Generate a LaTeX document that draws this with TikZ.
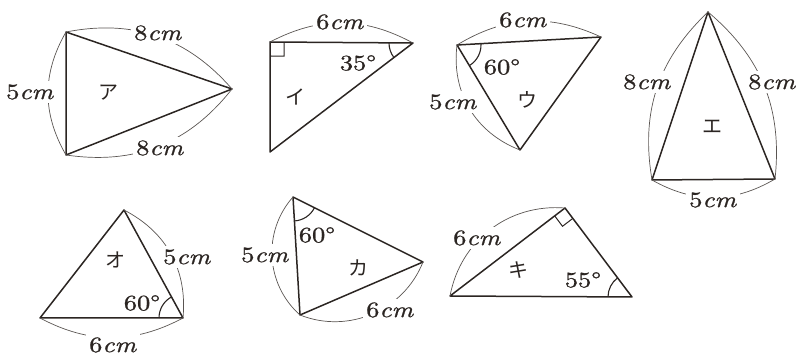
\documentclass[tikz,border=0pt]{standalone}
\usepackage{fontspec}
\usepackage{graphicx}
\newfontfamily\jpfont{Noto Sans CJK JP}
\newfontfamily\lblfont{lmroman10-regular.otf}[ItalicFont=lmroman10-italic.otf, FakeBold=0.9]
\usetikzlibrary{angles}
\definecolor{ink}{HTML}{2B2522}
\definecolor{arcgray}{HTML}{5A5552}
\newcommand\wlab[1]{\scalebox{1.2}[1]{#1}}
\begin{document}
\begin{tikzpicture}[x=1pt,y=1pt,
 tri/.style={draw=ink, line width=1.5pt, line join=round},
 dim/.style={draw=arcgray, line width=0.7pt},
 len/.style={fill=white, inner sep=3pt, text=ink, font=\lblfont\fontsize{22}{22}\selectfont},
 ang/.style={inner sep=0pt, text=ink, font=\lblfont\fontsize{22}{22}\selectfont},
 kana/.style={inner sep=0pt, text=ink, font=\jpfont\fontsize{20}{20}\selectfont},
 angarc/.style={draw=ink, line width=1.1pt, angle radius=24pt},
 rt/.style={draw=ink, line width=1pt, angle radius=14pt}]
\useasboundingbox (0,0) rectangle (799,355);
% ---- ア
\coordinate (A1) at (66,323); \coordinate (A2) at (66,200); \coordinate (A3) at (232,266);
\draw[tri] (A1)--(A2)--(A3)--cycle;
\draw[dim] (A1) to[bend left=30] (A3);
\draw[dim] (A2) to[bend left=30] (A1);
\draw[dim] (A2) to[bend right=30] (A3);
\node[len] (a8t) at (158,322) {\wlab{8\textit{cm}}};
\node[len] (a5) at (30,263) {\wlab{5\textit{cm}}};
\node[len] (a8b) at (160,207) {\wlab{8\textit{cm}}};
\node[kana] (ka) at (108,262) {ア};
% ---- イ
\coordinate (I1) at (270,313); \coordinate (I2) at (413,312); \coordinate (I3) at (270,203);
\draw[tri] (I1)--(I2)--(I3)--cycle;
\pic[rt]{right angle=I2--I1--I3};
\pic[angarc]{angle=I1--I2--I3};
\draw[dim] (I1) to[bend left=28] (I2);
\node[len] (i6) at (340,333) {\wlab{6\textit{cm}}};
\node[ang] (i35) at (358,292) {\wlab{35°}};
\node[kana] (ki) at (295,258) {イ};
% ---- ウ
\coordinate (U1) at (457,310); \coordinate (U2) at (601,318); \coordinate (U3) at (520,205);
\draw[tri] (U1)--(U2)--(U3)--cycle;
\pic[angarc]{angle=U3--U1--U2};
\draw[dim] (U1) to[bend left=28] (U2);
\draw[dim] (U3) to[bend left=38] (U1);
\node[len] (u6) at (523,335) {\wlab{6\textit{cm}}};
\node[len] (u5) at (453,253) {\wlab{5\textit{cm}}};
\node[ang] (u60) at (502,288) {\wlab{60°}};
\node[kana] (ku) at (527,255) {ウ};
% ---- エ
\coordinate (E1) at (708,343); \coordinate (E2) at (652,175); \coordinate (E3) at (775,176);
\draw[tri] (E1)--(E2)--(E3)--cycle;
\draw[dim] (E2) to[bend left=28] (E1);
\draw[dim] (E3) to[bend right=28] (E1);
\draw[dim] (E2) to[bend right=30] (E3);
\node[len] (e8l) at (647,273) {\wlab{8\textit{cm}}};
\node[len] (e8r) at (772,273) {\wlab{8\textit{cm}}};
\node[len] (e5) at (713,155) {\wlab{5\textit{cm}}};
\node[kana] (ke) at (712,228) {エ};
% ---- オ
\coordinate (O1) at (124,145); \coordinate (O2) at (40,37); \coordinate (O3) at (183,37);
\draw[tri] (O1)--(O2)--(O3)--cycle;
\pic[angarc]{angle=O1--O3--O2};
\draw[dim] (O1) to[bend left=34] (O3);
\draw[dim] (O2) to[bend right=28] (O3);
\node[len] (o5) at (187,98) {\wlab{5\textit{cm}}};
\node[len] (o6) at (113,10) {\wlab{6\textit{cm}}};
\node[ang] (o60) at (142,52) {\wlab{60°}};
\node[kana] (ko) at (115,95) {オ};
% ---- カ
\coordinate (K1) at (293,158); \coordinate (K2) at (300,40); \coordinate (K3) at (423,93);
\draw[tri] (K1)--(K2)--(K3)--cycle;
\pic[angarc]{angle=K2--K1--K3};
\draw[dim] (K2) to[bend left=45] (K1);
\draw[dim] (K2) to[bend right=45] (K3);
\node[len] (k5) at (265,100) {\wlab{5\textit{cm}}};
\node[len] (k6) at (390,45) {\wlab{6\textit{cm}}};
\node[ang] (k60) at (317,120) {\wlab{60°}};
\node[kana] (kk) at (358,87) {カ};
% ---- キ
\coordinate (Q1) at (450,59); \coordinate (Q2) at (565,147); \coordinate (Q3) at (632,58);
\draw[tri] (Q1)--(Q2)--(Q3)--cycle;
\pic[rt,angle radius=13pt]{right angle=Q1--Q2--Q3};
\pic[angarc]{angle=Q2--Q3--Q1};
\draw[dim] (Q1) to[bend left=42] (Q2);
\node[len] (q6) at (477,117) {\wlab{6\textit{cm}}};
\node[ang] (q55) at (583,75) {\wlab{55°}};
\node[kana] (kq) at (518,85) {キ};
\end{tikzpicture}
\end{document}
